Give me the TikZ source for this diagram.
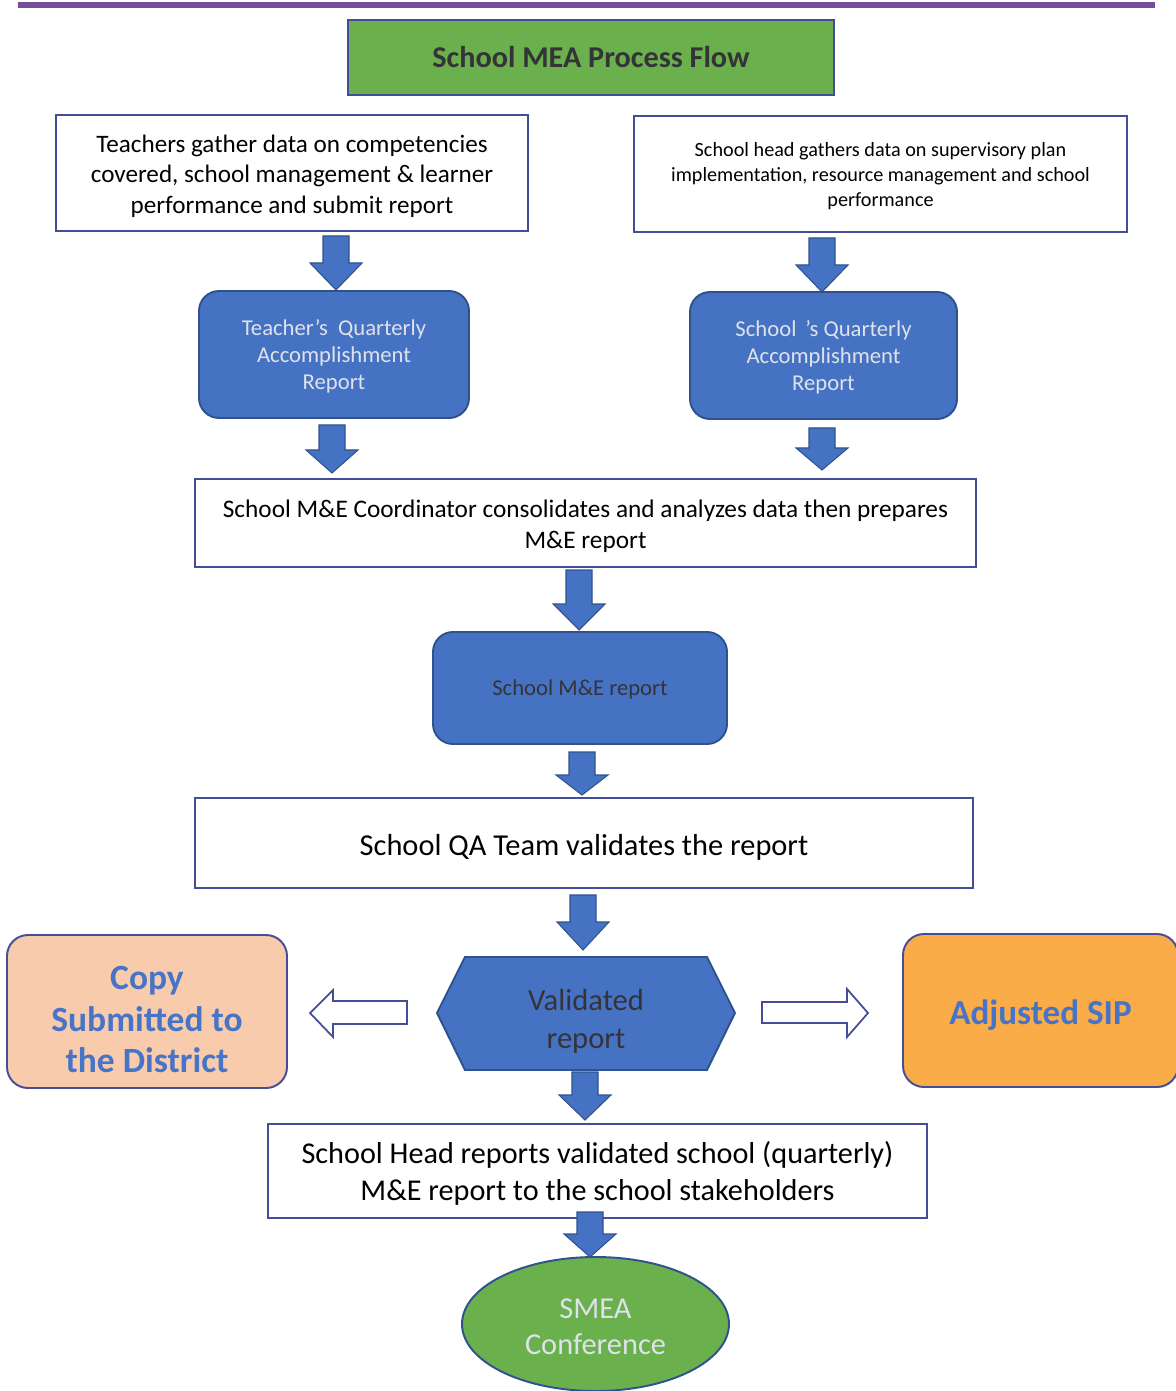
\documentclass[tikz,border=0pt]{standalone}
\usepackage{fontspec}
\setmainfont{Carlito}
\usetikzlibrary{shapes.geometric}

\definecolor{rulepurple}{RGB}{118,78,158}
\definecolor{titlegreen}{RGB}{106,176,76}
\definecolor{edgeblue}{RGB}{68,78,152}
\definecolor{stepblue}{RGB}{70,114,196}
\definecolor{stepedge}{RGB}{47,82,143}
\definecolor{paletext}{RGB}{222,226,234}
\definecolor{darktext}{RGB}{52,52,56}
\definecolor{peach}{RGB}{248,203,173}
\definecolor{orangefill}{RGB}{250,172,72}
\definecolor{linkblue}{RGB}{72,116,200}

% solid block arrow pointing down: x, top, start of head, tip
\newcommand\downblock[4]{%
  \filldraw[blockarrow]
    ({#1-13},#2) -- ({#1+13},#2) -- ({#1+13},#3) -- ({#1+26},#3) --
    (#1,#4) -- ({#1-26},#3) -- ({#1-13},#3) -- cycle;}

\begin{document}
\begin{tikzpicture}[x=0.02cm,y=-0.02cm,
  every node/.style={outer sep=0pt, inner sep=2pt, align=center},
  size/.style 2 args={minimum width=#1*0.02cm, minimum height=#2*0.02cm},
  % text placed a few units below the centre of its box
  lowered/.style={yshift=-#1*0.02cm},
  whitebox/.style={draw=edgeblue, line width=1.1pt, fill=white},
  stepbox/.style={draw=stepedge, line width=1.1pt, fill=stepblue,
    rounded corners=0.4cm},
  blockarrow/.style={fill=stepblue, draw=stepedge, line width=0.6pt},
  hollowarrow/.style={fill=white, draw=edgeblue, line width=1pt},
  sidebox/.style={draw=edgeblue, line width=1.1pt, rounded corners=0.42cm},
  sidetext/.style={text=linkblue, font=#1\bfseries}]

\useasboundingbox (0,0) rectangle (1175,1391);

% rule across the top of the page
\draw[line width=3.4pt, rulepurple] (18,5) -- (1155,5);

% title
\node[size={486}{75}, fill=titlegreen, draw=edgeblue, line width=1.2pt,
  text=darktext, font=\fontsize{17.2}{20}\selectfont\bfseries]
  (title) at (591,57.5) {School MEA Process Flow};

% data gathering
\node[whitebox, size={472}{116}] (teachers) at (292,173) {};
\node[font=\fontsize{14.3}{17.3}\selectfont] (teachers-text)
  at ([lowered=3]teachers.center)
  {Teachers gather data on competencies\\covered, school management \& learner\\performance and submit report};
\node[whitebox, size={493}{116}] (head) at (880.5,174) {};
\node[font=\fontsize{11.5}{14.2}\selectfont] (head-text)
  at ([lowered=2]head.center)
  {School head gathers data on supervisory plan\\implementation, resource management and school\\performance};

\downblock{336}{236}{263}{290}
\downblock{822}{238}{265}{292}

% quarterly accomplishment reports
\node[stepbox, size={270}{127}] (tqar) at (334,354.5) {};
\node[text=paletext, font=\fontsize{12.9}{15.3}\selectfont] (tqar-text)
  at ([lowered=2]tqar.center) {Teacher's\ \ Quarterly\\Accomplishment\\Report};
\node[stepbox, size={267}{127}] (sqar) at (823.5,355.5) {};
\node[text=paletext, font=\fontsize{12.9}{15.3}\selectfont] (sqar-text)
  at ([lowered=2]sqar.center) {School \,'s Quarterly\\Accomplishment\\Report};

\downblock{332}{425}{450}{473}
\downblock{822}{428}{448}{470}

% consolidation
\node[whitebox, size={781}{88}] (coord) at (585.5,523) {};
\node[font=\fontsize{14.4}{17.6}\selectfont] (coord-text)
  at ([lowered=3]coord.center)
  {School M\&E Coordinator consolidates and analyzes data then prepares\\M\&E report};

\downblock{579}{570}{604}{630}

\node[stepbox, size={294}{112}] (mereport) at (580,688) {};
\node[text=darktext, font=\fontsize{12.9}{15}\selectfont] (mereport-text)
  at ([lowered=1]mereport.center) {School M\&E report};

\downblock{582}{752}{775}{795}

% validation
\node[whitebox, size={778}{90}] (qa) at (584,843) {};
\node[font=\fontsize{17.3}{20}\selectfont] (qa-text)
  at ([lowered=4]qa.center) {School QA Team validates the report};

\downblock{583}{895}{922}{950}

\filldraw[fill=stepblue, draw=stepedge, line width=1.1pt]
  (437,1013) -- (465,957) -- (707,957) -- (735,1013) -- (707,1070) -- (465,1070) -- cycle;
\node[text=darktext, font=\fontsize{17.4}{21.5}\selectfont]
  (validated) at (586,1021) {Validated\\report};

% side outputs
\node[sidebox, fill=peach, size={280}{153}] (copy) at (147,1011.5) {};
\node[sidetext=\fontsize{20.2}{23.8}\selectfont] (copy-text)
  at ([lowered=8]copy.center) {Copy\\Submitted to\\the District};
\node[sidebox, fill=orangefill, size={275}{153}] (sip) at (1040.5,1010.5) {};
\node[sidetext=\fontsize{20}{22}\selectfont] (sip-text)
  at ([lowered=5]sip.center) {Adjusted SIP};

\filldraw[hollowarrow]
  (407,1001) -- (333,1001) -- (333,990) -- (310,1013) -- (333,1037) --
  (333,1024) -- (407,1024) -- cycle;
\filldraw[hollowarrow]
  (762,1002) -- (847,1002) -- (847,989) -- (868,1013) -- (847,1037) --
  (847,1023) -- (762,1023) -- cycle;

\downblock{585}{1072}{1095}{1120}

% reporting to stakeholders
\node[whitebox, size={659}{94}] (stake) at (597.5,1171) {};
\node[font=\fontsize{17.2}{21}\selectfont] (stake-text)
  at ([lowered=2]stake.center)
  {School Head reports validated school (quarterly)\\M\&E report to the school stakeholders};

\downblock{590}{1212}{1234}{1257}

\node[ellipse, draw=stepedge, line width=1.1pt, fill=titlegreen, size={267}{134},
  inner sep=0pt] (conf) at (595.5,1324) {};
\node[text=paletext, font=\fontsize{17.3}{20.4}\selectfont] (conf-text)
  at ([lowered=2.5]conf.center) {SMEA\\Conference};

\end{tikzpicture}
\end{document}
